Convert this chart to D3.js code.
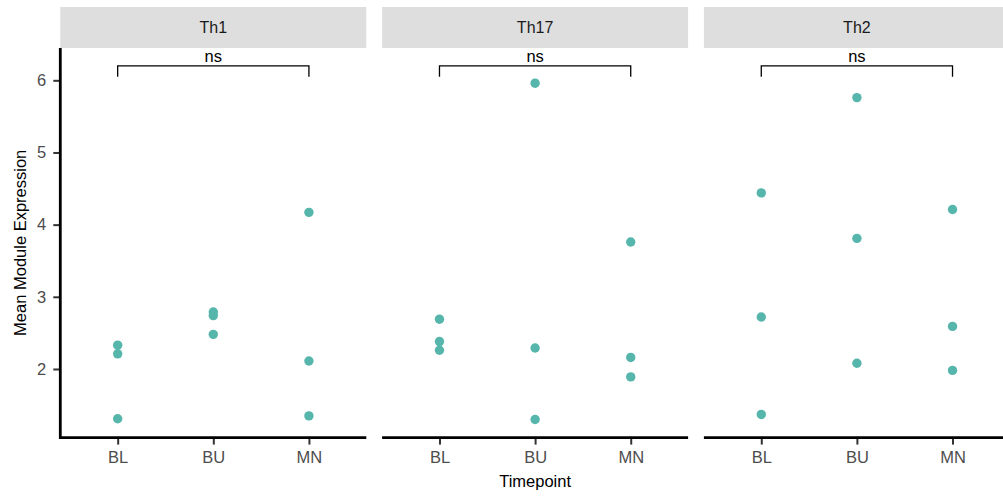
<!DOCTYPE html>
<html>
<head>
<meta charset="utf-8">
<script src="https://cdn.jsdelivr.net/npm/d3@7"></script>
<style>
  html, body { margin: 0; padding: 0; background: #fff; }
  svg { display: block; font-family: "Liberation Sans", Arial, sans-serif; }
</style>
</head>
<body>
<svg id="chart" width="1003" height="496"></svg>
<script>
// Facets, timepoints and per-sample mean module expression
const facets = ["Th1", "Th17", "Th2"];
const timepoints = ["BL", "BU", "MN"];

const th1BL = [2.33, 2.21, 1.31];
const th1BU = [2.79, 2.74, 2.48];
const th1MN = [4.17, 2.11, 1.35];

const th17BL = [2.69, 2.38, 2.26];
const th17BU = [5.96, 2.29, 1.30];
const th17MN = [3.76, 2.16, 1.89];

const th2BL = [4.44, 2.72, 1.37];
const th2BU = [5.76, 3.81, 2.08];
const th2MN = [4.21, 2.59, 1.98];

const yTicks = [2, 3, 4, 5, 6];

// Comparison bracket (BL vs MN) per facet
const bracketFrom = "BL";
const bracketTo = "MN";
const bracketLabel = "ns";
const bracketTop = 6.2;
const bracketTipEnd = 6.05;

const seriesByFacet = {
  "Th1":  { BL: th1BL,  BU: th1BU,  MN: th1MN },
  "Th17": { BL: th17BL, BU: th17BU, MN: th17MN },
  "Th2":  { BL: th2BL,  BU: th2BU,  MN: th2MN }
};

const svg = d3.select("#chart");

const panelLeft = 60.3, panelWidth = 306, panelStep = 321.8;
const panelTop = 48, panelBottom = 437.6;
const stripTop = 7;
const pointColor = "#56b6ab";
const fontStack = "Liberation Sans, Arial, sans-serif";

const y = d3.scaleLinear().domain([1.0575, 6.4475]).range([437, panelTop]);

facets.forEach((facet, i) => {
  const x0 = panelLeft + i * panelStep;
  const g = svg.append("g").attr("transform", `translate(${x0},0)`);
  const x = d3.scalePoint().domain(timepoints).range([0, panelWidth]).padding(0.6);

  // strip
  g.append("rect")
    .attr("x", 0).attr("y", stripTop)
    .attr("width", panelWidth).attr("height", panelTop - stripTop)
    .attr("fill", "#dedede");
  g.append("text")
    .attr("x", panelWidth / 2).attr("y", 27.4)
    .attr("dy", "0.35em")
    .attr("text-anchor", "middle")
    .style("font-size", "16px")
    .attr("fill", "#1a1a1a")
    .text(facet);

  // points
  const pts = [];
  timepoints.forEach(tp => seriesByFacet[facet][tp].forEach(v => pts.push({ tp, v })));
  g.selectAll("circle.pt").data(pts).enter().append("circle")
    .attr("class", "pt")
    .attr("cx", d => x(d.tp))
    .attr("cy", d => y(d.v))
    .attr("r", 4.7)
    .attr("fill", pointColor);

  // x axis
  const xAxis = d3.axisBottom(x).tickSize(7).tickPadding(7);
  const xa = g.append("g").attr("transform", `translate(0,${panelBottom})`).call(xAxis);
  xa.select(".domain").remove();
  xa.selectAll(".tick line").attr("stroke", "#333").attr("stroke-width", 2);
  xa.selectAll(".tick text").attr("fill", "#4d4d4d")
    .style("font-size", "16.5px").style("font-family", fontStack);
  g.append("line")
    .attr("x1", 0).attr("x2", panelWidth)
    .attr("y1", panelBottom).attr("y2", panelBottom)
    .attr("stroke", "#000").attr("stroke-width", 2.8);

  // bracket
  const bx1 = x(bracketFrom), bx2 = x(bracketTo);
  g.append("path")
    .attr("d", `M${bx1},${y(bracketTipEnd)}V${y(bracketTop)}H${bx2}V${y(bracketTipEnd)}`)
    .attr("fill", "none").attr("stroke", "#000").attr("stroke-width", 1.3);
  g.append("text")
    .attr("x", (bx1 + bx2) / 2).attr("y", y(bracketTop) - 4.3)
    .attr("text-anchor", "middle")
    .style("font-size", "16.5px")
    .attr("fill", "#000")
    .text(bracketLabel);

  // y axis on first panel only
  if (i === 0) {
    const yAxis = d3.axisLeft(y).tickValues(yTicks).tickSize(7).tickPadding(7).tickFormat(d3.format("d"));
    const ya = g.append("g").call(yAxis);
    ya.select(".domain").remove();
    ya.selectAll(".tick line").attr("stroke", "#333").attr("stroke-width", 2);
    ya.selectAll(".tick text").attr("fill", "#4d4d4d")
      .style("font-size", "16.5px").style("font-family", fontStack);
    g.append("line")
      .attr("x1", 0).attr("x2", 0)
      .attr("y1", panelTop).attr("y2", panelBottom + 1.4)
      .attr("stroke", "#000").attr("stroke-width", 2.8);
  }
});

// axis titles
svg.append("text")
  .attr("x", panelLeft + (2 * panelStep + panelWidth) / 2)
  .attr("y", 486.7)
  .attr("text-anchor", "middle")
  .style("font-size", "16.5px")
  .attr("fill", "#000")
  .text("Timepoint");

svg.append("text")
  .attr("transform", `translate(25.5,${(panelTop + panelBottom) / 2}) rotate(-90)`)
  .attr("text-anchor", "middle")
  .style("font-size", "16.5px")
  .attr("fill", "#000")
  .text("Mean Module Expression");
</script>
</body>
</html>
